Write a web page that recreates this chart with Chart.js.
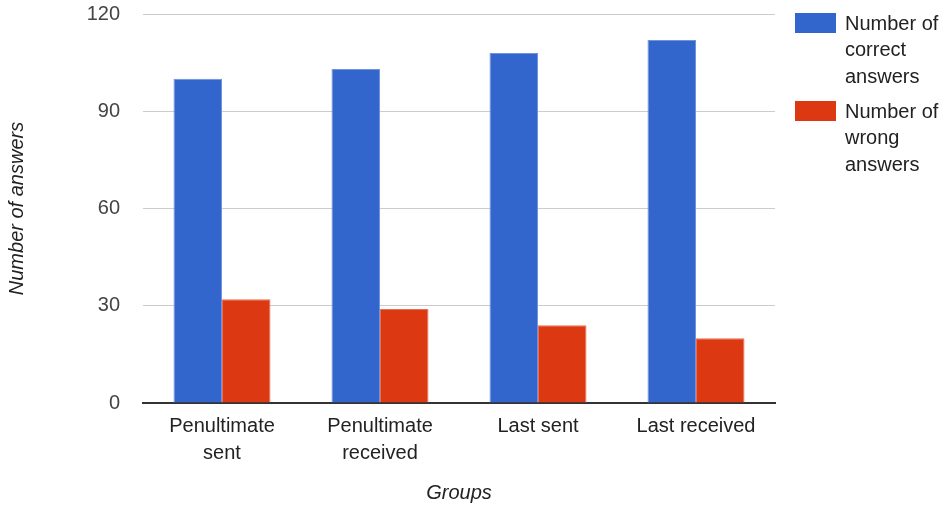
<!DOCTYPE html>
<html>
<head>
<meta charset="utf-8">
<script src="https://cdn.jsdelivr.net/npm/chart.js@4"></script>
<style>
html,body{margin:0;padding:0;background:#fff;}
#wrap{width:947px;height:506px;position:relative;}
</style>
</head>
<body>
<div id="wrap"><canvas id="c" width="947" height="506"></canvas></div>
<script>
const categories = [["Penultimate","sent"],["Penultimate","received"],["Last sent"],["Last received"]];
const correctAnswers = [100, 103, 108, 112];
const wrongAnswers = [32, 29, 24, 20];
const seriesNames = [["Number of","correct","answers"],["Number of","wrong","answers"]];
const yTicks = [0, 30, 60, 90, 120];
const colors = ["#3366cc", "#dc3912"];
const FONT = "'Liberation Sans', Arial, sans-serif";

const legendPlugin = {
  id: 'sideLegend',
  afterDraw(chart) {
    const ctx = chart.ctx;
    ctx.save();
    ctx.font = "20px " + FONT;
    ctx.textBaseline = 'middle';
    ctx.textAlign = 'left';
    const x0 = 795, boxW = 41, boxH = 20;
    const starts = [13, 101];
    seriesNames.forEach((lines, i) => {
      const y = starts[i];
      ctx.fillStyle = colors[i];
      ctx.fillRect(x0, y, boxW, boxH);
      ctx.fillStyle = '#222';
      lines.forEach((t, j) => ctx.fillText(t, 845, y + 11 + j * 26.5));
    });
    ctx.restore();
  }
};

new Chart(document.getElementById('c'), {
  type: 'bar',
  data: {
    labels: categories,
    datasets: [
      { label: seriesNames[0].join(' '), data: correctAnswers, backgroundColor: colors[0], borderColor: '#6f93dc', borderWidth: 1, categoryPercentage: 0.614, barPercentage: 1 },
      { label: seriesNames[1].join(' '), data: wrongAnswers, backgroundColor: colors[1], borderColor: '#e8704f', borderWidth: 1, categoryPercentage: 0.614, barPercentage: 1 }
    ]
  },
  options: {
    responsive: false,
    animation: false,
    layout: { padding: { left: 0, right: 172, top: 14, bottom: 1 } },
    plugins: { legend: { display: false }, tooltip: { enabled: false } },
    scales: {
      x: {
        grid: { display: false, drawTicks: false },
        border: { display: true, color: '#333', width: 2 },
        ticks: { color: '#222', font: { family: FONT, size: 20, lineHeight: 1.35 }, padding: 10, maxRotation: 0, autoSkip: false },
        title: { display: true, text: 'Groups', color: '#222', font: { family: FONT, size: 20, style: 'italic', lineHeight: 1.2 }, padding: { top: 0, bottom: 0 } },
        afterFit(scale) { scale.height = 102; scale.paddingLeft = 0; scale.paddingRight = 0; }
      },
      y: {
        min: 0, max: 120,
        afterBuildTicks(scale) { scale.ticks = yTicks.map(v => ({ value: v })); },
        grid: { color: '#cccccc', lineWidth: 1, drawTicks: false },
        border: { display: false },
        ticks: { color: '#444', font: { family: FONT, size: 20 }, padding: 23 },
        title: { display: true, text: 'Number of answers', color: '#222', font: { family: FONT, size: 20, style: 'italic', lineHeight: 1.2 }, padding: { top: 5, bottom: 0 } },
        afterFit(scale) { scale.width = 143; scale.paddingTop = 0; scale.paddingBottom = 0; }
      }
    }
  },
  plugins: [legendPlugin]
});
</script>
</body>
</html>
